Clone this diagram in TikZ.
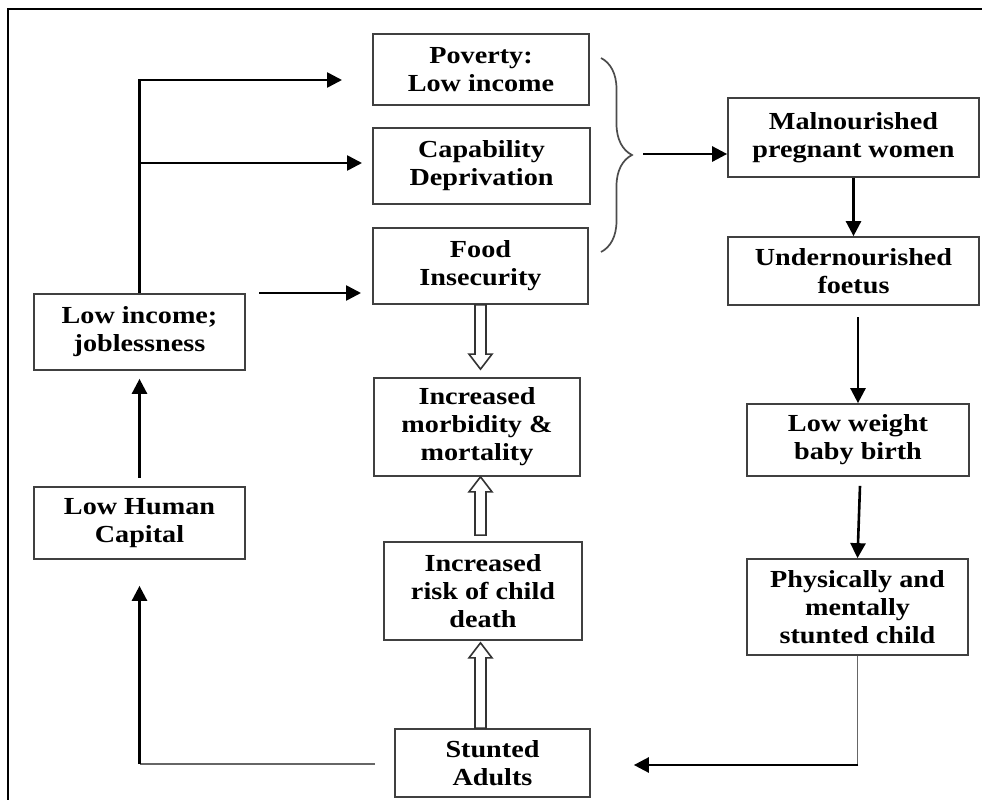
\documentclass[tikz,border=0pt]{standalone}
\usepackage{fontspec}
\newfontfamily\boxfont[FakeStretch=1.15]{Liberation Serif}
\usetikzlibrary{arrows.meta,calc,decorations.pathreplacing}
\newcommand{\hollowarr}[2]{%
  \draw[hollow] let \p1=(#1), \p2=(#2), \n1={ifthenelse(\y2>\y1,-15,15)} in
  ({\x1-5.5pt},\y1) -- ({\x1-5.5pt},{\y2+\n1*1pt}) -- ({\x1-11.5pt},{\y2+\n1*1pt}) -- (\x1,\y2)
  -- ({\x1+11.5pt},{\y2+\n1*1pt}) -- ({\x1+5.5pt},{\y2+\n1*1pt}) -- ({\x1+5.5pt},\y1) -- cycle;}
\begin{document}
\begin{tikzpicture}[x=1pt,y=-1pt,
  box/.style={draw=black!75, line width=1.7pt, rectangle, inner sep=0pt, align=center,
    font=\boxfont\bfseries\fontsize{24.5}{28}\selectfont},
  arr/.style={line width=2.6pt, -{Triangle[length=15pt,width=15pt]}},
  greyline/.style={line width=1.8pt, draw=black!60},
  hollow/.style={draw=black!80, line width=1.6pt, fill=white}]
\useasboundingbox (0,0) rectangle (982,800);
\draw[line width=1.4pt] (8,800) -- (8,9) -- (982,9);

% boxes
\node[box, minimum width=216, minimum height=71] (pov) at (481,69.5) {Poverty:\\Low income};
\node[box, minimum width=217, minimum height=76] (cap) at (481.5,166) {Capability\\Deprivation};
\node[box, minimum width=215, minimum height=76] (food) at (480.5,266) {Food\\Insecurity};
\node[box, minimum width=251, minimum height=79] (mal) at (853.5,137.5) {Malnourished\\pregnant women};
\node[box, minimum width=251, minimum height=68] (und) at (853.5,271) {Undernourished\\foetus};
\node[box, minimum width=222, minimum height=72] (lww) at (858,440) {Low weight\\baby birth};
\node[box, minimum width=221, minimum height=96] (phy) at (857.5,607) {Physically and\\mentally\\stunted child};
\node[box, minimum width=211, minimum height=76] (lij) at (139.5,332) {Low income;\\joblessness};
\node[box, minimum width=211, minimum height=72] (lhc) at (139.5,523) {Low Human\\Capital};
\node[box, minimum width=206, minimum height=98] (mor) at (477,427) {Increased\\morbidity \&\\mortality};
\node[box, minimum width=198, minimum height=98] (risk) at (483,591) {Increased\\risk of child\\death};
\node[box, minimum width=195, minimum height=68] (sa) at (492.5,763) {Stunted\\Adults};

% left branch
\coordinate (t1) at (342,80);
\coordinate (t2) at (362,163);
\coordinate (s3) at (259,293);
\coordinate (t3) at (361,293);
\draw[arr] (lij.north) -- (lij.north |- t1) -- (t1);
\draw[arr] (lij.north |- t2) -- (t2);
\draw[arr] (s3) -- (t3);
\draw[arr] ($(lij.south)+(0,107)$) -- ($(lij.south)+(0,8)$);

% bottom loop to Low Human Capital
\coordinate (c1) at (375,764);
\draw[greyline] (c1) -- (lhc.south |- c1);
\draw[arr] (lhc.south |- c1) -- ($(lhc.south)+(0,26)$);

% brace and right column
\draw[decorate, decoration={brace, amplitude=31pt, aspect=0.5}, line width=1.7pt, draw=black!70]
  (601,58) -- (601,252);
\coordinate (bt) at (643,154);
\draw[arr] (bt) -- (mal.west |- bt);
\draw[arr] (mal.south) -- (und.north);
\draw[arr] ($(lww.north)+(0,-86)$) -- (lww.north);
\draw[arr] ($(lww.south)+(2,9)$) -- (phy.north);
\coordinate (c4) at (858,765);
\draw[greyline] (phy.south) -- (phy.south |- c4);
\draw[arr] ($(phy.south |- c4)+(0.9,0)$) -- ($(sa.east |- c4)+(43,0)$);

% hollow arrows
\hollowarr{food.south}{$(food.south |- mor.north)+(0,-8)$}
\hollowarr{$(food.south |- risk.north)+(0,-6)$}{food.south |- mor.south}
\hollowarr{food.south |- sa.north}{$(food.south |- risk.south)+(0,2)$}
\end{tikzpicture}
\end{document}
